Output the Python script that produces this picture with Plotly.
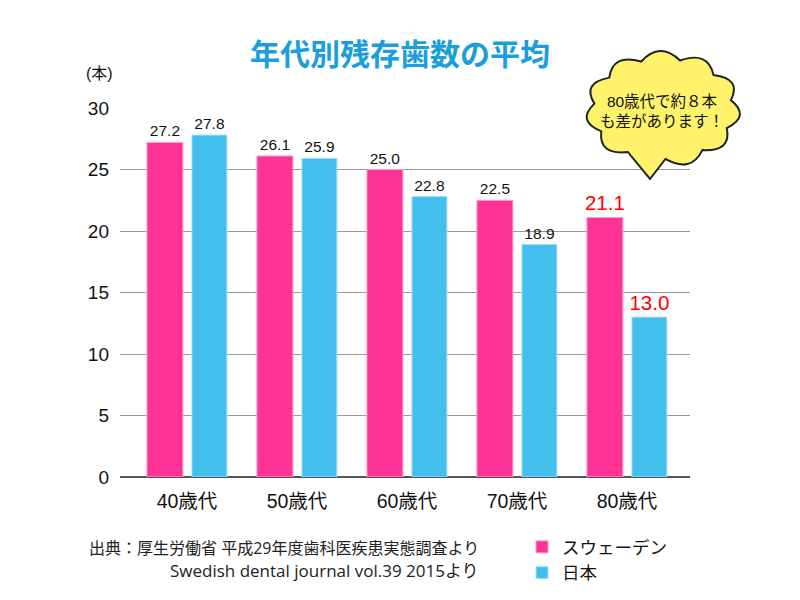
import plotly.graph_objects as go
import numpy as np

categories = ["40歳代", "50歳代", "60歳代", "70歳代", "80歳代"]
sweden = [27.2, 26.1, 25.0, 22.5, 21.1]
japan = [27.8, 25.9, 22.8, 18.9, 13.0]
series_names = ["スウェーデン", "日本"]
y_ticks = [0, 5, 10, 15, 20, 25, 30]

PINK = "#FD3396"
BLUE = "#42BFEC"
FONT = "Liberation Sans, Arial, Noto Sans CJK JP, sans-serif"
FONT2 = "Open Sans, Noto Sans CJK JP, sans-serif"

# plot area in pixels
L, R, T, B = 120, 690, 108, 477
W, H = 800, 600

def px(x):
    return (x - L) / (R - L)

def py(y):
    return (B - y) / (B - T)

def lab_colors(vals, highlight_idx):
    return ["#FF0000" if i == highlight_idx else "#111111" for i in range(len(vals))]

def lab_sizes(vals, highlight_idx):
    return [20.5 if i == highlight_idx else 15.5 for i in range(len(vals))]

xs = list(range(len(categories)))

fig = go.Figure()
fig.add_trace(go.Bar(
    x=xs, y=sweden, name=series_names[0],
    marker=dict(color=PINK, line=dict(color="#FF9CCB", width=1)),
    width=0.327, offset=-0.364,
    text=[f"{v:.1f}" for v in sweden], textposition="outside",
    textfont=dict(color=lab_colors(sweden, 4), size=lab_sizes(sweden, 4), family=FONT),
    constraintext="none", cliponaxis=False,
))
fig.add_trace(go.Bar(
    x=xs, y=japan, name=series_names[1],
    marker=dict(color=BLUE, line=dict(color="#A6E0F6", width=1)),
    width=0.318, offset=0.045,
    text=[f"{v:.1f}" for v in japan], textposition="outside",
    textfont=dict(color=lab_colors(japan, 4), size=lab_sizes(japan, 4), family=FONT),
    constraintext="none", cliponaxis=False,
))

fig.update_layout(
    width=W, height=H,
    margin=dict(l=L, r=W - R, t=T, b=H - B, pad=0, autoexpand=False),
    paper_bgcolor="white", plot_bgcolor="white",
    barmode="overlay",
    showlegend=True,
    legend=dict(x=px(522), y=py(529), xanchor="left", yanchor="top",
                font=dict(size=17.5, family=FONT, color="#111111"),
                bgcolor="rgba(0,0,0,0)", traceorder="normal",
                itemwidth=30, tracegroupgap=0),
    xaxis=dict(tickmode="array", tickvals=xs, ticktext=categories,
               range=[-0.609, 4.573], showgrid=False, zeroline=False,
               showline=False, ticks="", ticklen=0, automargin=False,
               ticklabelstandoff=10,
               tickfont=dict(size=19.5, family=FONT, color="#111111")),
    yaxis=dict(range=[0, 30], tickvals=y_ticks, showgrid=True,
               gridcolor="#9a9a9a", gridwidth=1, zeroline=True,
               zerolinecolor="#555555", zerolinewidth=1.5, automargin=False,
               showline=False, ticks="", ticklabelstandoff=10,
               tickfont=dict(size=19, family=FONT, color="#111111")),
)

annotations = [
    dict(text="<b>年代別残存歯数の平均</b>", x=px(400), y=py(52), xref="paper", yref="paper",
         showarrow=False, font=dict(size=30, color="#1B9EDC", family="Noto Sans CJK JP"),
         xanchor="center", yanchor="middle"),
    dict(text="(本)", x=px(84), y=py(73), xref="paper", yref="paper", showarrow=False,
         xanchor="left", yanchor="middle", font=dict(size=16, color="#111111", family=FONT)),
    dict(text="出典：厚生労働省 平成29年度歯科医疾患実態調査より", x=px(481), y=py(548),
         xref="paper", yref="paper", showarrow=False, xanchor="right", yanchor="middle",
         font=dict(size=16, color="#222222", family=FONT2)),
    dict(text="Swedish dental journal vol.39 2015より", x=px(481), y=py(570),
         xref="paper", yref="paper", showarrow=False, xanchor="right", yanchor="middle",
         font=dict(size=17, color="#222222", family=FONT2)),
    dict(text="80歳代で約８本<br>も差があります！", x=px(662), y=py(111),
         xref="paper", yref="paper", showarrow=False, xanchor="center", yanchor="middle",
         align="center", font=dict(size=15.5, color="#111111", family=FONT)),
]

# speech-bubble cloud path (pixel -> paper)
cx, cy, rx, ry = 663, 109, 69, 50
n = 11
angles = np.linspace(-np.pi / 2 + 0.25, 3 * np.pi / 2 + 0.25, n + 1)
pts = [(cx + rx * np.cos(a), cy + ry * np.sin(a)) for a in angles]
path = ""
tail_done = False
for i in range(n):
    a0, a1 = angles[i], angles[i + 1]
    p0, p1 = pts[i], pts[i + 1]
    am = (a0 + a1) / 2
    ctrl = (cx + rx * 1.28 * np.cos(am), cy + ry * 1.36 * np.sin(am))
    if i == 0:
        path += f"M{px(p0[0]):.4f},{py(p0[1]):.4f} "
    if not tail_done and a0 < np.pi / 2 <= a1:
        tail_done = True
        path += f"L{px(650):.4f},{py(179):.4f} L{px(p1[0]):.4f},{py(p1[1]):.4f} "
        continue
    path += f"Q{px(ctrl[0]):.4f},{py(ctrl[1]):.4f} {px(p1[0]):.4f},{py(p1[1]):.4f} "
path += "Z"

shapes = [dict(type="path", path=path, xref="paper", yref="paper",
               fillcolor="#FFF36B", line=dict(color="#222222", width=2), layer="above")]

fig.update_layout(annotations=annotations, shapes=shapes)
fig.write_html("out.html")
